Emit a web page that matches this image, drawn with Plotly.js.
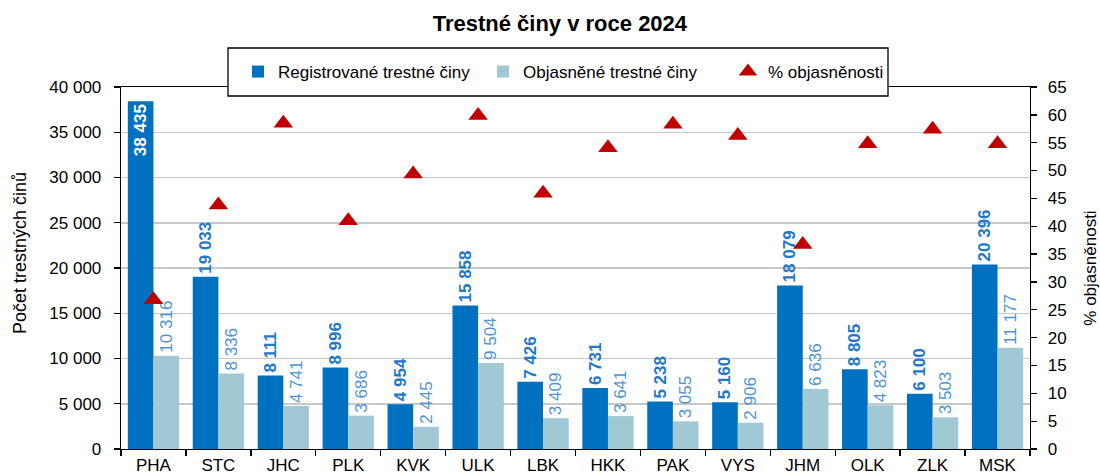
<!DOCTYPE html>
<html>
<head>
<meta charset="utf-8">
<script src="https://cdn.plot.ly/plotly-3.0.1.min.js"></script>
<style>html,body{margin:0;padding:0;background:#fff;}#chart{width:1100px;height:475px;}</style>
</head>
<body>
<div id="chart"></div>
<script>
const categories = ["PHA","STC","JHC","PLK","KVK","ULK","LBK","HKK","PAK","VYS","JHM","OLK","ZLK","MSK"];
const registrovane = [38435,19033,8111,8996,4954,15858,7426,6731,5238,5160,18079,8805,6100,20396];
const objasnene = [10316,8336,4741,3686,2445,9504,3409,3641,3055,2906,6636,4823,3503,11177];
const objasnenost = [26.8,43.8,58.5,41.0,49.4,59.9,45.9,54.1,58.3,56.3,36.7,54.8,57.4,54.8];
const regTextPos = ["inside","outside","outside","outside","outside","outside","outside","outside","outside","outside","outside","outside","outside","outside"];

const FONT = "Liberation Sans, Arial, sans-serif";
const W = 1100, H = 475, ML = 121, MR = 70, MT = 87, MB = 26;
const PW = W - ML - MR, PH = H - MT - MB;
const px = v => (v - ML) / PW;
const py = v => (H - MB - v) / PH;

const traces = [
  {
    type: "bar", name: "Registrované trestné činy",
    x: categories, y: registrovane,
    marker: {color: "#0070C0"},
    texttemplate: "%{y:,}", textposition: regTextPos, textangle: -90,
    insidetextanchor: "end", constraintext: "none",
    insidetextfont: {family: FONT, size: 17, color: "#ffffff", weight: "bold"},
    outsidetextfont: {family: FONT, size: 17, color: "#1F78C8", weight: "bold"},
    cliponaxis: false, hoverinfo: "skip"
  },
  {
    type: "bar", name: "Objasněné trestné činy",
    x: categories, y: objasnene,
    marker: {color: "#A0C8D5"},
    texttemplate: "%{y:,}", textposition: "outside", textangle: -90,
    constraintext: "none",
    outsidetextfont: {family: FONT, size: 17, color: "#4F94D4"},
    cliponaxis: false, hoverinfo: "skip"
  },
  {
    type: "scatter", mode: "markers", name: "% objasněnosti",
    x: categories, y: objasnenost, yaxis: "y2",
    marker: {symbol: "triangle-up", size: 17, color: "#C00000"},
    cliponaxis: false, hoverinfo: "skip"
  }
];

const layout = {
  width: W, height: H,
  margin: {l: ML, r: MR, t: MT, b: MB},
  paper_bgcolor: "#ffffff", plot_bgcolor: "#ffffff",
  separators: ", ",
  font: {family: FONT, size: 17, color: "#000000"},
  title: {text: "<b>Trestné činy v roce 2024</b>", font: {family: FONT, size: 22, color: "#000"}, x: 0.509, xanchor: "center", y: 0.952, yanchor: "middle"},
  barmode: "group", bargap: 0.21, bargroupgap: 0,
  showlegend: true,
  legend: {
    orientation: "h", x: px(238), xanchor: "left", y: py(72), yanchor: "middle",
    bgcolor: "rgba(0,0,0,0)", borderwidth: 0,
    font: {family: FONT, size: 17, color: "#000"}, traceorder: "normal",
    itemwidth: 30, entrywidth: 200, entrywidthmode: "pixels"
  },
  shapes: [
    {type: "rect", xref: "paper", yref: "paper", x0: px(228), x1: px(888), y0: py(48), y1: py(96),
     line: {color: "#000", width: 1.3}, fillcolor: "#ffffff", layer: "above"}
  ],
  xaxis: {
    type: "category", range: [-0.5, 13.5],
    showline: true, linecolor: "#000", linewidth: 1.3, mirror: true,
    ticks: "outside", tickson: "boundaries", ticklen: 6, tickcolor: "#000", tickwidth: 1.3,
    ticklabelstandoff: 0,
    tickfont: {family: FONT, size: 17, color: "#000"}, showgrid: false, fixedrange: true
  },
  yaxis: {
    range: [0, 40000], dtick: 5000, tickformat: ",d",
    showline: true, linecolor: "#000", linewidth: 1.3,
    ticks: "outside", ticklen: 6, tickcolor: "#000", tickwidth: 1.3,
    ticklabelstandoff: 9,
    showgrid: true, gridcolor: "#C8C8C8", gridwidth: 1.5, zeroline: false,
    tickfont: {family: FONT, size: 17, color: "#000"},
    title: {text: "&nbsp;&nbsp;&nbsp;&nbsp;&nbsp;&nbsp;Počet trestných činů", font: {family: FONT, size: 18, color: "#000"}, standoff: 18},
    automargin: false, fixedrange: true
  },
  yaxis2: {
    overlaying: "y", side: "right", range: [0, 65], dtick: 5,
    showline: true, linecolor: "#000", linewidth: 1.3,
    ticks: "outside", ticklen: 6, tickcolor: "#000", tickwidth: 1.3,
    ticklabelstandoff: 7,
    showgrid: false, zeroline: false,
    tickfont: {family: FONT, size: 17, color: "#000"},
    title: {text: "% objasněnosti", font: {family: FONT, size: 17, color: "#000"}, standoff: 22},
    automargin: false, fixedrange: true
  }
};

Plotly.newPlot("chart", traces, layout, {displayModeBar: false, staticPlot: true});
</script>
</body>
</html>
